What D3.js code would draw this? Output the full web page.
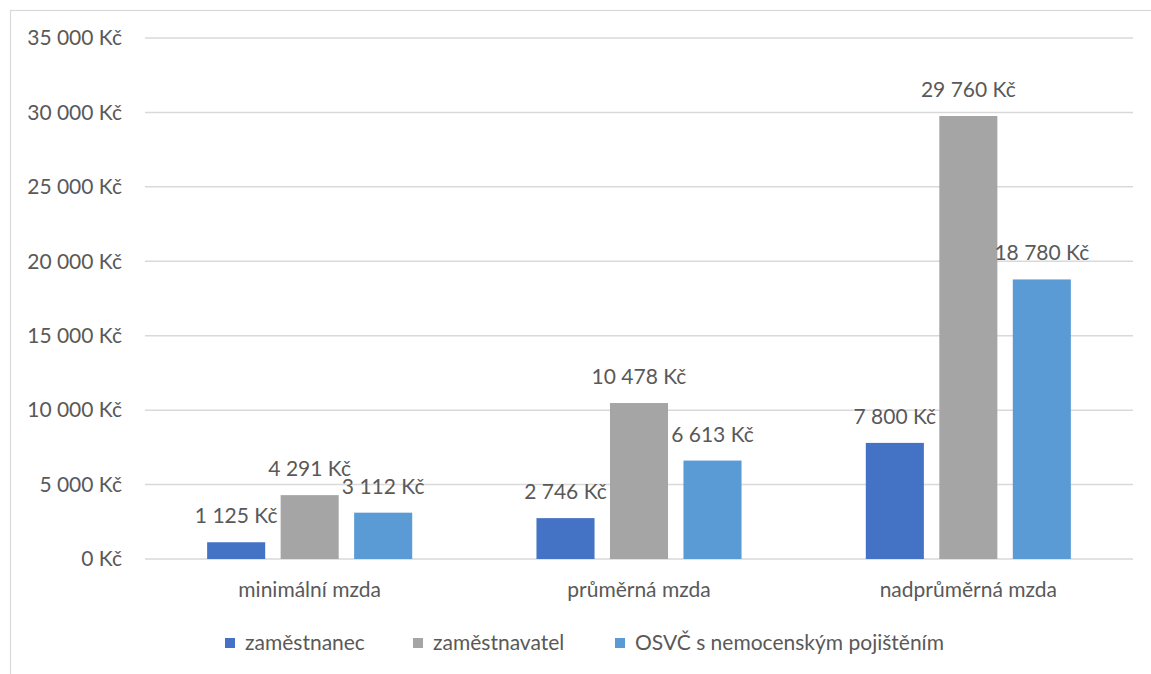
<!DOCTYPE html>
<html>
<head>
<meta charset="utf-8">
<script src="https://cdn.jsdelivr.net/npm/d3@7"></script>
<style>
  body { margin: 0; background: #fff; }
  text { font-family: Lato, "Open Sans", sans-serif; fill: #595959; }
</style>
</head>
<body>
<div id="chart"></div>
<script>
// data
var categories = ["minimální mzda", "průměrná mzda", "nadprůměrná mzda"];
var seriesNames = ["zaměstnanec", "zaměstnavatel", "OSVČ s nemocenským pojištěním"];
var zamestnanec = [1125, 2746, 7800];
var zamestnavatel = [4291, 10478, 29760];
var osvc = [3112, 6613, 18780];
var yTicks = [0, 5000, 10000, 15000, 20000, 25000, 30000, 35000];

var colors = ["#4472c4", "#a5a5a5", "#5b9bd5"];
var allSeries = [zamestnanec, zamestnavatel, osvc];

var W = 1151, H = 674;
var margin = {top: 38, left: 145, right: 18, bottom: 115};
var width = W - margin.left - margin.right,
    height = H - margin.top - margin.bottom;

var svg = d3.select("#chart").append("svg")
  .attr("width", W)
  .attr("height", H);

// chart area border
svg.append("rect")
  .attr("x", 10.5).attr("y", 10.5)
  .attr("width", W).attr("height", H)
  .attr("fill", "none")
  .attr("stroke", "#d9d9d9")
  .attr("stroke-width", 1.2);

var g = svg.append("g")
  .attr("transform", `translate(${margin.left}, ${margin.top})`);

var y = d3.scaleLinear().domain([0, 35000]).range([height, 0]);

var x0 = d3.scaleBand().domain(categories).range([0, width]).padding(0);

// inner scale: 3 bars, pitch ~73.5, width ~58
var groupW = 73.5 * 3;
var x1 = d3.scaleBand().domain(d3.range(3))
  .range([(x0.bandwidth() - groupW) / 2, (x0.bandwidth() + groupW) / 2])
  .paddingInner(0.21).paddingOuter(0.105);

var fmt = function(v) {
  return d3.format(",")(v).replace(/,/g, "\u00a0") + " Kč";
};

var fs = "21px";

// gridlines
g.append("g")
  .selectAll("line")
  .data(yTicks)
  .enter().append("line")
  .attr("x1", 0).attr("x2", width)
  .attr("y1", d => y(d)).attr("y2", d => y(d))
  .attr("stroke", "#d9d9d9")
  .attr("stroke-width", 1.5);

// y tick labels
g.append("g")
  .selectAll("text")
  .data(yTicks)
  .enter().append("text")
  .attr("x", -23)
  .attr("y", d => y(d))
  .attr("dy", "0.35em")
  .attr("text-anchor", "end")
  .style("font-size", fs)
  .text(d => fmt(d));

// bars
var groups = g.selectAll(".grp")
  .data(categories)
  .enter().append("g")
  .attr("class", "grp")
  .attr("transform", d => `translate(${x0(d)},0)`);

groups.selectAll("rect")
  .data((d, i) => allSeries.map((s, k) => ({k: k, v: s[i]})))
  .enter().append("rect")
  .attr("x", d => x1(d.k))
  .attr("width", x1.bandwidth())
  .attr("y", d => y(d.v))
  .attr("height", d => height - y(d.v))
  .attr("fill", d => colors[d.k]);

groups.selectAll("text.lbl")
  .data((d, i) => allSeries.map((s, k) => ({k: k, v: s[i]})))
  .enter().append("text")
  .attr("class", "lbl")
  .attr("x", d => x1(d.k) + x1.bandwidth() / 2)
  .attr("y", d => y(d.v) - 19)
  .attr("text-anchor", "middle")
  .style("font-size", fs)
  .text(d => fmt(d.v));

// category labels
g.append("g")
  .selectAll("text")
  .data(categories)
  .enter().append("text")
  .attr("x", d => x0(d) + x0.bandwidth() / 2)
  .attr("y", height + 31)
  .attr("dy", "0.35em")
  .attr("text-anchor", "middle")
  .style("font-size", fs)
  .text(d => d);

// legend
var legendX = [225, 413, 615];
var legend = svg.append("g");
seriesNames.forEach(function(name, i) {
  legend.append("rect")
    .attr("x", legendX[i]).attr("y", 638)
    .attr("width", 10).attr("height", 10)
    .attr("fill", colors[i]);
  legend.append("text")
    .attr("x", legendX[i] + 20).attr("y", 643)
    .attr("dy", "0.35em")
    .style("font-size", fs)
    .text(name);
});
</script>
</body>
</html>
